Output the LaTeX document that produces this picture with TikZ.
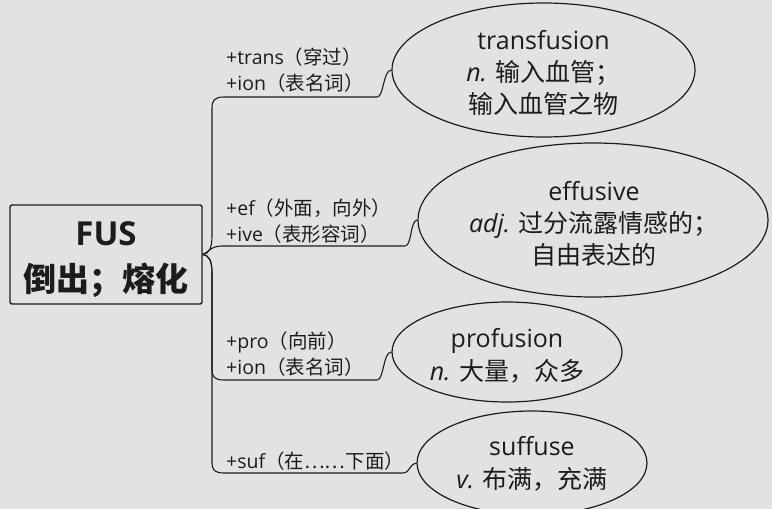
\documentclass[tikz,border=0pt]{standalone}
\usepackage{fontspec}
\setmainfont{Open Sans}
\newfontfamily\cjk{Noto Sans CJK SC}
\usetikzlibrary{shapes.geometric}
\definecolor{bg}{RGB}{226,226,226}
\definecolor{ink}{RGB}{28,28,28}
\newcommand\zhs[1]{{\cjk #1}}
\begin{document}
\begin{tikzpicture}[x=1pt,y=-1pt,
  word/.style={ellipse,draw=ink,line width=1.2pt,inner sep=0pt},
  wordtext/.style={inner sep=0pt,align=center,text=ink,font={\fontsize{25}{32}\selectfont}},
  affix/.style={anchor=west,inner sep=0pt,align=left,text=ink,font={\fontsize{19.5}{26}\selectfont}},
  link/.style={draw=ink,line width=1.1pt}]
\useasboundingbox (0,0) rectangle (772,509);
\fill[bg] (0,0) rectangle (772,509);
\clip (0,0) rectangle (772,509);
\node[draw=ink,line width=1.4pt,rounded corners=2pt,minimum width=192pt,minimum height=99pt] (root) at (106,254.5) {};
\node[inner sep=0pt,align=center,text=ink,font={\fontsize{33}{46}\selectfont\bfseries}] (roottext) at (106,260) {FUS\\\zhs{倒出；熔化}};
\node[word,minimum width=303pt,minimum height=134pt] (e1) at (543.5,70) {};
\node[wordtext] (t1) at (543.5,72.5) {transfusion\\{\itshape n.} \zhs{输入血管；}\\\zhs{输入血管之物}};
\node[word,minimum width=350pt,minimum height=154pt] (e2) at (593,220) {};
\node[wordtext] (t2) at (594,223.5) {effusive\\{\itshape adj.} \zhs{过分流露情感的；}\\\zhs{自由表达的}};
\node[word,minimum width=230pt,minimum height=100pt] (e3) at (507,352) {};
\node[wordtext,font={\fontsize{25}{33}\selectfont}] (t3) at (507,356) {profusion\\{\itshape n.} \zhs{大量，众多}};
\node[word,minimum width=230pt,minimum height=104pt] (e4) at (532,463) {};
\node[wordtext,font={\fontsize{25}{33}\selectfont}] (t4) at (532,463.5) {suffuse\\{\itshape v.} \zhs{布满，充满}};
\node[affix] (l1) at (226,70) {+trans\zhs{（穿过）}\\+ion\zhs{（表名词）}};
\node[affix] (l2) at (226,221.5) {+ef\zhs{（外面，向外）}\\+ive\zhs{（表形容词）}};
\node[affix] (l3) at (226,354.5) {+pro\zhs{（向前）}\\+ion\zhs{（表名词）}};
\node[affix] (l4) at (226,461) {+suf\zhs{（在……下面）}};
\draw[link] (root.east) .. controls (209,254) and (212,248) .. (212,236) -- (212,108) .. controls (212,100) and (215,97) .. (224,97) -- (377,97) .. controls (384,97) and (383,70) .. (e1.west);
\draw[link] (root.east) .. controls (208,253) and (210,246) .. (222,246) -- (405,246) .. controls (412,246) and (410,220) .. (e2.west);
\draw[link] (root.east) .. controls (209,255) and (212,261) .. (212,273) -- (212,370) .. controls (212,377) and (215,380) .. (224,380) -- (377,380) .. controls (384,380) and (383,352) .. (e3.west);
\draw[link] (root.east) .. controls (209,255) and (212,261) .. (212,273) -- (212,463) .. controls (212,470) and (215,473) .. (224,473) -- (403,473) .. controls (410,473) and (410,463) .. (e4.west);
\end{tikzpicture}
\end{document}
